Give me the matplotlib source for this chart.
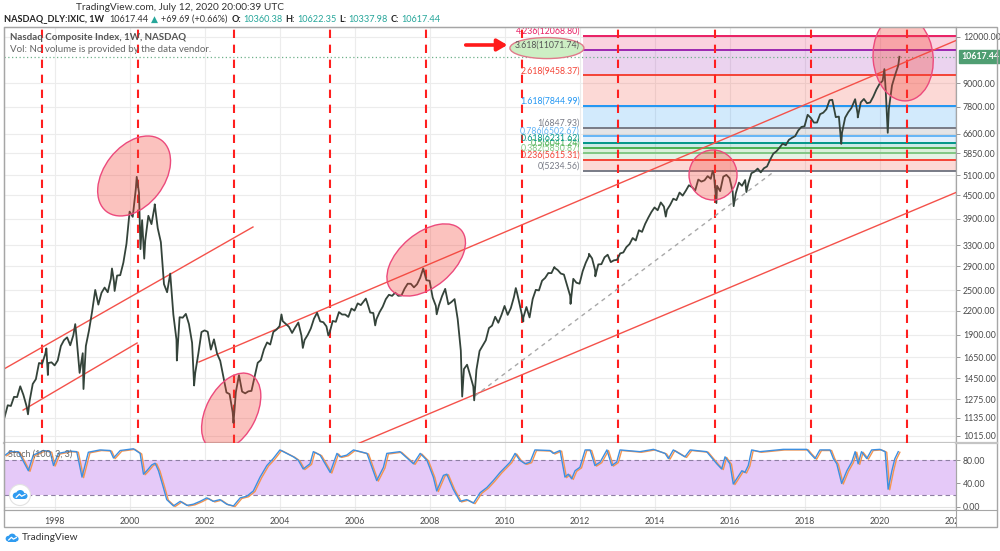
import matplotlib
matplotlib.use('Agg')
import matplotlib.pyplot as plt
import matplotlib.ticker as mticker
from matplotlib.patches import Ellipse, Rectangle, Circle
from matplotlib.lines import Line2D
from matplotlib.transforms import ScaledTranslation, Bbox, TransformedBbox, IdentityTransform

plt.rcParams['font.family'] = ['Lato', 'DejaVu Sans']

# ---------------- data ----------------
# monthly closes, NASDAQ Composite, starting Jul 1996
first_year, first_month = 1996, 7
monthly_close = [
    1080.6, 1141.5, 1226.9, 1221.5, 1292.6, 1291.0,
    1379.9, 1309.0, 1221.7, 1260.8, 1400.3, 1442.1, 1593.8, 1587.3, 1685.7, 1593.6, 1600.6, 1570.4,
    1619.4, 1770.5, 1835.7, 1868.4, 1778.9, 1894.7, 1872.4, 1499.3, 1693.8, 1771.4, 1949.5, 2192.7,
    2505.9, 2288.0, 2461.4, 2542.9, 2470.5, 2686.1, 2638.5, 2739.4, 2746.2, 2966.4, 3336.2, 4069.3,
    3940.4, 4696.7, 4572.8, 3860.7, 3400.9, 3966.1, 3766.9, 4206.4, 3672.8, 3369.6, 2597.9, 2470.5,
    2772.7, 2151.8, 1840.3, 2116.2, 2110.5, 2160.5, 2027.1, 1805.4, 1498.8, 1690.2, 1930.6, 1950.4,
    1934.0, 1731.5, 1845.4, 1688.2, 1615.7, 1463.2, 1328.3, 1314.9, 1172.1, 1329.8, 1479.0, 1335.5,
    1320.9, 1337.5, 1341.2, 1464.3, 1595.9, 1622.8, 1735.0, 1810.5, 1786.9, 1932.2, 1960.3, 2003.4,
    2066.2, 2029.8, 1994.2, 1920.2, 1986.7, 2047.8, 1887.4, 1838.1, 1896.8, 1975.0, 2096.8, 2175.4,
    2062.4, 2051.7, 1999.2, 1921.7, 2068.2, 2057.0, 2184.8, 2152.1, 2151.7, 2120.3, 2232.8, 2205.3,
    2305.8, 2281.4, 2339.8, 2322.6, 2178.9, 2172.1, 2091.5, 2183.8, 2258.4, 2366.7, 2431.8, 2415.3,
    2463.9, 2416.2, 2421.6, 2525.1, 2604.5, 2603.2, 2546.3, 2596.4, 2701.5, 2859.1, 2661.0, 2652.3,
    2389.9, 2271.5, 2279.1, 2412.8, 2522.7, 2293.0, 2325.6, 2367.5, 2091.9, 1721.0, 1535.6, 1577.0,
    1476.4, 1377.8, 1528.6, 1717.3, 1774.3, 1835.0, 1979.0, 2009.1, 2122.4, 2045.1, 2144.6, 2269.2,
    2147.4, 2238.3, 2398.0, 2461.2, 2257.0, 2109.2, 2254.7, 2114.0, 2368.6, 2507.4, 2498.2, 2652.9,
    2700.1, 2782.3, 2781.1, 2873.5, 2835.3, 2773.5, 2756.4, 2579.5, 2415.4, 2684.4, 2620.3, 2605.2,
    2813.8, 2966.9, 3091.6, 3046.4, 2827.3, 2935.1, 2939.5, 3067.0, 3116.2, 2977.2, 3010.2, 3019.5,
    3142.1, 3160.2, 3267.5, 3328.8, 3455.9, 3403.3, 3626.4, 3589.9, 3771.5, 3919.7, 4059.9, 4176.6,
    4103.9, 4308.1, 4199.0, 4114.6, 4242.6, 4408.2, 4369.8, 4580.3, 4493.4, 4630.7, 4791.6, 4736.1,
    4635.2, 4963.5, 4900.9, 4941.4, 5070.0, 4986.9, 5128.3, 4776.5, 4620.2, 5053.7, 5108.7, 5007.4,
    4614.0, 4558.0, 4869.9, 4775.4, 4948.1, 4842.7, 5162.1, 5213.2, 5312.0, 5189.1, 5323.7, 5383.1,
    5614.8, 5825.4, 5911.7, 6047.6, 6198.5, 6140.4, 6348.1, 6428.7, 6496.0, 6727.7, 6874.0, 6903.4,
    7411.5, 7273.0, 7063.4, 7066.3, 7442.1, 7510.3, 7671.8, 8109.5, 8046.4, 7305.9, 7330.5, 6635.3,
    7281.7, 7532.5, 7729.3, 8095.4, 7453.1, 8006.2, 8175.4, 7962.9, 7999.3, 8292.4, 8665.5, 8972.6,
    9150.9, 8567.4, 7700.1, 8889.6, 9489.9, 10058.8,
]
# swing highs / lows (decimal year, value)
swing_dates = [1997.29, 1997.78, 1997.82, 1998.55, 1998.77, 1999.53, 1999.60, 2000.19, 2000.29,
               2000.39, 2000.67, 2001.26, 2001.72, 2002.77, 2004.05, 2004.62, 2005.30, 2006.30,
               2006.55, 2007.83, 2008.19, 2008.87, 2009.19, 2010.30, 2010.50, 2011.33, 2011.76,
               2012.25, 2012.42, 2014.30, 2015.55, 2015.65, 2016.11, 2016.45, 2018.74, 2018.98,
               2019.35, 2019.42, 2020.13, 2020.22, 2020.53]
swing_vals = [1160, 1745, 1480, 2028, 1357, 2862, 2490, 5048, 3227,
              3042, 4259, 1619, 1387, 1100, 2153, 1750, 1890, 2375,
              2012, 2861, 2155, 1295, 1265, 2535, 2061, 2888, 2298,
              3134, 2726, 3946, 5232, 4292, 4210, 4594, 8133, 6190,
              8164, 7292, 9838, 6631, 10617.44]

last_price = 10617.44
price_ticks = [1015, 1135, 1275, 1450, 1650, 1900, 2200, 2500, 2900, 3300, 3900, 4500,
               5100, 5850, 6600, 7800, 9000, 12000]

# Fibonacci extension levels
fib_ratios = ['0', '0.236', '0.382', '0.5', '0.618', '0.786', '1', '1.618', '2.618', '3.618', '4.236']
fib_prices = [5234.56, 5615.31, 5850.87, 6041.24, 6231.62, 6502.67, 6847.93, 7844.99, 9458.37,
              11071.74, 12068.80]
fib_colors = ['#787b86', '#f44336', '#81c784', '#4caf50', '#009688', '#64b5f6', '#787b86',
              '#2196f3', '#f44336', '#9c27b0', '#e91e63']
fib_label_colors = ['#787b86', '#f44336', '#81c784', '#4caf50', '#009688', '#64b5f6', '#787b86',
                    '#2196f3', '#f44336', '#555555', '#e91e63']
fib_start = 2012.09

# cycle lines (decimal years)
cycle_dates = [1997.67, 2000.23, 2002.79, 2005.35, 2007.91, 2010.47, 2013.03, 2015.61, 2018.17, 2020.73]

# trend lines: ((t0, p0), (t1, p1))
trend_lines = [((1996.65, 1536), (2003.29, 3700)),
               ((1997.16, 1191), (2000.20, 1804)),
               ((2001.85, 1604), (2022.04, 11743)),
               ((2006.00, 959), (2022.04, 4582))]
dashed_line = ((2009.21, 1300), (2017.21, 5234.56))

# highlighted zones: (t, p, width_px, height_px, angle)
zones = [(2000.12, 5075, 90, 60, 52),
         (2002.71, 1177, 84, 50, 62),
         (2007.91, 3017, 92, 54, 40),
         (2015.56, 5106, 48, 50, 0),
         (2020.63, 10537, 86, 60, 95)]

# Stochastic %K (decimal year, value)
stoch_dates = [1996.68, 1996.81, 1997.03, 1997.30, 1997.43, 1997.70, 1997.88, 1997.97, 1998.10, 1998.41,
               1998.59, 1998.73, 1998.90, 1999.21, 1999.48, 1999.57, 1999.75, 2000.10, 2000.28, 2000.37,
               2000.46, 2000.59, 2000.68, 2000.77, 2000.90, 2000.99, 2001.17, 2001.35, 2001.53, 2001.70,
               2001.88, 2002.06, 2002.23, 2002.41, 2002.59, 2002.77, 2002.95, 2003.13, 2003.30, 2003.48,
               2003.66, 2003.83, 2004.01, 2004.19, 2004.37, 2004.50, 2004.63, 2004.81, 2004.90, 2005.08,
               2005.35, 2005.53, 2005.61, 2005.79, 2005.97, 2006.15, 2006.33, 2006.59, 2006.77, 2006.86,
               2007.21, 2007.57, 2007.75, 2007.93, 2008.10, 2008.19, 2008.37, 2008.46, 2008.63, 2008.81,
               2008.99, 2009.17, 2009.35, 2009.53, 2009.70, 2009.88, 2010.15, 2010.28, 2010.41, 2010.55,
               2010.68, 2010.81, 2011.21, 2011.30, 2011.48, 2011.61, 2011.70, 2011.79, 2011.88, 2012.01,
               2012.15, 2012.28, 2012.41, 2012.55, 2012.73, 2012.86, 2012.99, 2013.08, 2013.61, 2013.97,
               2014.28, 2014.37, 2014.50, 2014.81, 2014.95, 2015.39, 2015.66, 2015.79, 2015.88, 2016.01,
               2016.10, 2016.19, 2016.33, 2016.41, 2016.50, 2016.59, 2016.81, 2017.43, 2018.06, 2018.15,
               2018.28, 2018.41, 2018.68, 2018.77, 2018.86, 2018.99, 2019.13, 2019.26, 2019.35, 2019.43,
               2019.52, 2019.66, 2019.79, 2020.01, 2020.15, 2020.23, 2020.33, 2020.41, 2020.50]
stoch_k = [89, 95, 95, 62, 89, 97, 95, 71, 92, 96,
           95, 51, 94, 98, 97, 84, 97, 100, 92, 56,
           62, 72, 75, 62, 33, 12, 1, 9, 2, 4,
           9, 15, 9, 12, 4, 1, 15, 18, 27, 51,
           71, 83, 98, 92, 86, 80, 65, 74, 95, 89,
           59, 92, 86, 89, 98, 95, 92, 45, 68, 92,
           95, 74, 92, 80, 51, 27, 54, 56, 30, 9,
           12, 6, 24, 33, 45, 59, 77, 92, 80, 74,
           77, 98, 97, 92, 97, 51, 56, 48, 62, 68,
           98, 98, 71, 77, 98, 71, 77, 98, 95, 99,
           92, 83, 98, 86, 98, 95, 74, 65, 86, 74,
           39, 48, 62, 59, 71, 98, 95, 99, 99, 92,
           83, 98, 98, 83, 74, 40, 62, 77, 95, 74,
           95, 83, 98, 99, 95, 30, 62, 83, 95]

year_ticks = list(range(1998, 2023, 2))

header_title = 'TradingView.com, July 12, 2020 20:00:39 UTC'
header_parts = [('NASDAQ_DLY:IXIC, 1W', '#222222', 'bold', 5),
                ('10617.44', '#333333', 'normal', 3),
                ('\u25b2', '#26a69a', 'normal', 3),
                ('+69.69 (+0.66%)', '#333333', 'normal', 4),
                ('O:', '#222222', 'bold', 2),
                ('10360.38', '#26a69a', 'normal', 3),
                ('H:', '#222222', 'bold', 2),
                ('10622.35', '#26a69a', 'normal', 3),
                ('L:', '#222222', 'bold', 2),
                ('10337.98', '#26a69a', 'normal', 3),
                ('C:', '#222222', 'bold', 2),
                ('10617.44', '#26a69a', 'normal', 0)]

# ---------------- figure ----------------
W, H = 1000, 551
fig = plt.figure(figsize=(10, 5.51), dpi=100)
fig.patch.set_facecolor('white')


def fx(px):
    return px / W


def fy(py):
    return 1 - py / H


XL, XR = 4, 956
ax = fig.add_axes([fx(XL), fy(443), fx(XR) - fx(XL), fy(27) - fy(443)])
ax2 = fig.add_axes([fx(XL), fy(510), fx(XR) - fx(XL), fy(443) - fy(510)], sharex=ax)

x_min, x_max = 1996.65, 2022.04
y_min, y_max = 971.3, 12766

ax.set_yscale('log')

# grid
grid_c = '#ececec'
for t in year_ticks:
    ax.axvline(t, color=grid_c, lw=0.8, zorder=0)
    ax2.axvline(t, color=grid_c, lw=0.8, zorder=0)
for p in price_ticks:
    ax.axhline(p, color=grid_c, lw=0.8, zorder=0)

# fib bands
for i in range(len(fib_prices) - 1):
    ax.fill_between([fib_start, x_max + 1], fib_prices[i], fib_prices[i + 1],
                    color=fib_colors[i + 1], alpha=0.2, lw=0, zorder=1)
for p, c in zip(fib_prices, fib_colors):
    ax.hlines(p, fib_start, x_max + 1, colors=c, lw=1.4, zorder=2)

# cycle lines
for t in cycle_dates:
    ax.axvline(t, color='#ff1f1f', lw=1.5, ls=(0, (4.0, 3.2)), zorder=3)

# trend lines
for (t0, p0), (t1, p1) in trend_lines:
    ax.plot([t0, t1], [p0, p1], color='#f4514a', lw=1.0, zorder=4)
(t0, p0), (t1, p1) = dashed_line
ax.plot([t0, t1], [p0, p1], color='#a8a8a8', lw=1.0, ls=(0, (3, 3)), zorder=4)

# price series
m_dates = [first_year + (first_month - 1 + i + 1) / 12 for i in range(len(monthly_close))]
pairs = sorted(list(zip(m_dates, monthly_close)) + list(zip(swing_dates, swing_vals)))
ax.plot([d for d, _ in pairs], [v for _, v in pairs], color='#34433a', lw=1.3, zorder=5)

# last price line
ax.axhline(last_price, color='#6fb08a', lw=0.9, ls=(0, (1, 2)), zorder=3)


# zones
def px_ellipse(t, p, w, h, ang, **kw):
    tr = fig.dpi_scale_trans + ScaledTranslation(t, p, ax.transData)
    e = Ellipse((0, 0), w / 100, h / 100, angle=ang, transform=tr, **kw)
    ax.add_patch(e)
    return e


for t, p, w, h, a in zones:
    px_ellipse(t, p, w, h, a, facecolor=(0.957, 0.263, 0.212, 0.32), edgecolor='#ec4a7c', lw=1.0, zorder=6)

# fib labels
for r, p, c in zip(fib_ratios, fib_prices, fib_label_colors):
    ax.text(2012.01, p, f'{r}({p:.2f})', color=c, fontsize=6.3, ha='right', va='bottom', zorder=9)

# green highlight around 3.618 label + arrow
px_ellipse(2011.13, 11071.74 * 1.012, 74, 21, 0, facecolor='#cdeec4', edgecolor='#e07a8a', lw=1.0, zorder=8)
ax.annotate('', xy=(2010.15, 11420), xytext=(2008.89, 11420),
            arrowprops=dict(arrowstyle='-|>,head_width=0.35,head_length=0.6', color='#ff1a1a', lw=2.6),
            zorder=9)

ax.set_xlim(x_min, x_max)
ax.set_ylim(y_min, y_max)

# y axis price
ax.yaxis.tick_right()
ax.yaxis.set_major_locator(mticker.FixedLocator(price_ticks))
ax.yaxis.set_major_formatter(mticker.FuncFormatter(lambda v, pos: f'{v:.2f}'))
ax.yaxis.set_minor_locator(mticker.NullLocator())
ax.yaxis.set_minor_formatter(mticker.NullFormatter())
ax.tick_params(axis='y', labelsize=6.3, labelcolor='#4a4a4a', color='#888888', length=3, width=0.6, pad=2)
ax.tick_params(axis='x', bottom=False, labelbottom=False)
ax.set_xticks(year_ticks)

ax.annotate(f'{last_price:.2f}', xy=(1.0, last_price), xycoords=('axes fraction', 'data'),
            xytext=(4, 0), textcoords='offset points', fontsize=6.3, color='white', fontweight='bold',
            va='center', ha='left',
            bbox=dict(boxstyle='square,pad=0.25', fc='#4f9e72', ec='#4f9e72'), annotation_clip=False, zorder=10)

for sp in ax.spines.values():
    sp.set_color('#a6a6a6')
    sp.set_linewidth(0.8)
ax.spines['bottom'].set_color('#c4c4c4')
ax.spines['bottom'].set_linewidth(1.6)

# ---------------- stochastic panel ----------------
ax2.set_ylim(-6, 110)
ax2.fill_between([x_min - 1, x_max + 1], 20, 80, color='#e5c9f8', lw=0, zorder=1)
ax2.axhline(80, color='#8e7fa3', lw=0.8, ls=(0, (4, 3)), zorder=2)
ax2.axhline(20, color='#8e7fa3', lw=0.8, ls=(0, (4, 3)), zorder=2)
ax2.axhline(0, color='#e3e3e3', lw=0.8, zorder=0)
lag = ax2.transData + ScaledTranslation(1.6 / 100, -0.6 / 100, fig.dpi_scale_trans)
ax2.plot(stoch_dates, stoch_k, color='#f5944f', lw=1.0, transform=lag, zorder=3)
ax2.plot(stoch_dates, stoch_k, color='#3d8fe0', lw=1.0, zorder=4)
ax2.yaxis.tick_right()
ax2.set_yticks([0, 40, 80])
ax2.set_yticklabels(['0.00', '40.00', '80.00'])
ax2.tick_params(axis='y', labelsize=6.3, labelcolor='#4a4a4a', color='#888888', length=3, width=0.6, pad=2)
ax2.set_xticks(year_ticks)
ax2.set_xticklabels([str(y) for y in year_ticks])
ax2.tick_params(axis='x', labelsize=6.3, labelcolor='#4a4a4a', length=0, pad=5)
ax2.set_xlim(x_min, x_max)
for sp in ax2.spines.values():
    sp.set_color('#a6a6a6')
    sp.set_linewidth(0.8)
ax2.spines['top'].set_visible(False)

clip = TransformedBbox(Bbox([[0, 0], [XR, H]]), IdentityTransform())
for lab in ax2.get_xticklabels():
    lab.set_clip_box(clip)
    lab.set_clip_on(True)

ax2.text(0.004, 0.84, 'Stoch (100, 3, 3)', transform=ax2.transAxes, fontsize=6.5, color='#6a6a6a',
         ha='left', va='center', zorder=6)


# cloud logo drawn in pixel space
def cloud(cx, cy, s, with_bubble=False):
    tr = IdentityTransform()
    Y = H - cy
    if with_bubble:
        fig.add_artist(Circle((cx, Y), 10.5, transform=tr, facecolor='white', edgecolor='#e2e2e2',
                              lw=0.8, zorder=20))
    c = '#2f9bf0'
    fig.add_artist(Circle((cx - 3.2 * s, Y - 0.6 * s), 2.6 * s, transform=tr, color=c, lw=0, zorder=21))
    fig.add_artist(Circle((cx + 0.2 * s, Y + 0.6 * s), 3.4 * s, transform=tr, color=c, lw=0, zorder=21))
    fig.add_artist(Circle((cx + 3.6 * s, Y - 0.8 * s), 2.4 * s, transform=tr, color=c, lw=0, zorder=21))
    fig.add_artist(Rectangle((cx - 3.2 * s, Y - 3.2 * s), 6.8 * s, 2.6 * s, transform=tr, color=c, lw=0,
                             zorder=21))
    fig.add_artist(Line2D([cx - 3.0 * s, cx - 0.5 * s, cx + 1.3 * s, cx + 4.0 * s],
                          [Y - 1.8 * s, Y + 0.6 * s, Y - 1.0 * s, Y + 0.4 * s], transform=tr,
                          color='white', lw=0.9, zorder=22))


cloud(20, 495, 1.25, with_bubble=True)
cloud(12, 538, 1.1)

# ---------------- frame ----------------
frame_c = '#a6a6a6'
fig.add_artist(Rectangle((fx(4), fy(527)), fx(997) - fx(4), fy(27) - fy(527), transform=fig.transFigure,
                         fill=False, ec=frame_c, lw=1.0))
fig.add_artist(Line2D([fx(XR), fx(XR)], [fy(527), fy(27)], transform=fig.transFigure, color=frame_c, lw=0.8))
fig.add_artist(Line2D([fx(4), fx(997)], [fy(510), fy(510)], transform=fig.transFigure, color=frame_c, lw=0.8))
fig.add_artist(Line2D([fx(XR), fx(997)], [fy(443), fy(443)], transform=fig.transFigure, color='#c4c4c4', lw=1.6))

# ---------------- header texts ----------------
fig.text(fx(76), fy(7), header_title, fontsize=7.3, color='#333333', ha='left', va='center')
renderer = fig.canvas.get_renderer()
xpos = 4
for s, c, w, gap in header_parts:
    t = fig.text(fx(xpos), fy(19), s, fontsize=6.6, color=c, fontweight=w, ha='left', va='center',
                 family=['Lato', 'DejaVu Sans'])
    bb = t.get_window_extent(renderer)
    xpos += bb.width + gap

fig.text(fx(10), fy(38), 'Nasdaq Composite Index, 1W, NASDAQ', fontsize=7.0, color='#555555',
         ha='left', va='center', fontweight='bold')
fig.text(fx(10), fy(50), 'Vol: No volume is provided by the data vendor.', fontsize=7.0, color='#666666',
         ha='left', va='center')

# bottom logo text
fig.text(fx(22), fy(538), 'TradingView', fontsize=7.3, color='#333333', ha='left', va='center')

fig.savefig('out.png', dpi=100)
